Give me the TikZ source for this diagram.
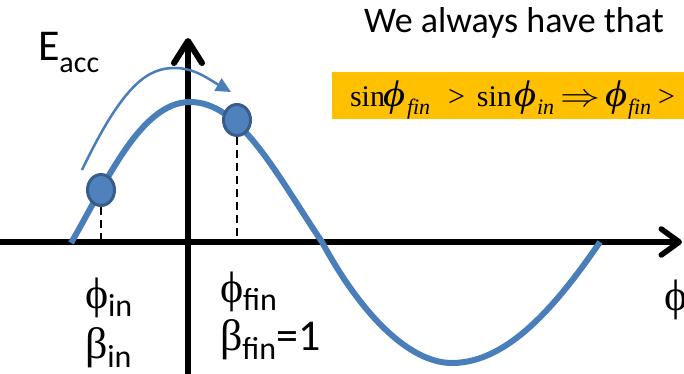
\documentclass[tikz,border=0pt]{standalone}
\usepackage{fontspec}
\usepackage{graphicx}
\setmainfont{Carlito}
\newfontfamily\grk{Liberation Serif}
\usetikzlibrary{arrows.meta,shapes.geometric}
\definecolor{curveblue}{RGB}{74,126,187}
\definecolor{dotfill}{RGB}{79,129,189}
\definecolor{dotline}{RGB}{56,93,138}
\definecolor{boxorange}{RGB}{255,192,0}
\newcommand{\fsz}[1]{\fontsize{#1}{#1}\selectfont}
\newcommand{\bigphi}{\scalebox{1.15}[1]{\fsz{37}\itshape ϕ}}
\newcommand{\subtxt}[1]{\raisebox{-8pt}{\fsz{22}\itshape #1}}
\tikzset{
  axisline/.style={line width=5.5pt,black},
  sinecurve/.style={line width=6pt,curveblue},
  dotnode/.style={ellipse,inner sep=0pt,minimum width=27pt,minimum height=31pt,fill=dotfill,draw=dotline,line width=3pt},
  dashln/.style={line width=2pt,dash pattern=on 8pt off 5pt},
  flowarrow/.style={line width=2.5pt,curveblue,-{Triangle[length=15pt,width=14pt]}},
  lbl/.style={anchor=base west,inner sep=0pt,outer sep=0pt},
}
\begin{document}
\begin{tikzpicture}[x=1pt,y=-1pt]
\clip (0,0) rectangle (684,374);
\fill[white] (0,0) rectangle (684,374);
% formula box
\fill[boxorange] (332,72) rectangle (690,119);
\node[lbl] (formula) at (350,107) {\grk\fsz{30}%
\makebox[33pt][l]{sin}%
\makebox[24pt][l]{\bigphi}%
\makebox[41pt][l]{\subtxt{fin}}%
\makebox[29pt][l]{>}%
\makebox[37pt][l]{sin}%
\makebox[23pt][l]{\bigphi}%
\makebox[23pt][l]{\subtxt{in}}%
\makebox[45pt][l]{\scalebox{1.6}[1.3]{$\Rightarrow$}}%
\makebox[23pt][l]{\bigphi}%
\makebox[30pt][l]{\subtxt{fin}}%
>};
\node[lbl] (always) at (364,33) {\fsz{36}We always have that};
% axes
\coordinate (hx0) at (0,242);
\coordinate (hx1) at (682,242);
\coordinate (vy0) at (188,380);
\coordinate (vy1) at (188,38);
\draw[axisline,-{Straight Barb[length=18pt,width=26pt,line cap=round,line join=round]}] (hx0) -- (hx1);
\draw[axisline,line width=6pt,-{Straight Barb[length=22pt,width=28pt,line cap=round,line join=round]}] (vy0) -- (vy1);
% curve
\coordinate (c0) at (71,243);
\coordinate (cpk) at (190,102);
\coordinate (cz) at (322,242);
\coordinate (ctr) at (452,363);
\coordinate (c1) at (600,242);
\draw[sinecurve] (c0) .. controls (105,185) and (140,102) .. (cpk)
  .. controls (240,102) and (275,172) .. (cz)
  .. controls (362,316) and (410,363) .. (ctr)
  .. controls (510,363) and (560,300) .. (c1);
% flow arrow
\coordinate (t0) at (82,170);
\coordinate (tm) at (175,68);
\coordinate (t1) at (231,92);
\draw[flowarrow] (t0) .. controls (125,80) and (150,68) .. (tm) .. controls (195,68) and (210,80) .. (t1);
% dashed drops
\coordinate (a1) at (101,242);
\coordinate (a2) at (237,242);
\node[dotnode] (d1) at (101,190) {};
\node[dotnode] (d2) at (237,120) {};
\draw[dashln] (d1.south) -- (a1);
\draw[dashln] (d2.south) -- (a2);
% labels
\node[lbl] (eacc) at (38,61) {\fsz{44}E\raisebox{-12pt}{\fsz{30}acc}};
\node[lbl] (phiin) at (85,308) {{\grk\fsz{44}ϕ}\raisebox{-8pt}{\fsz{32}in}};
\node[lbl] (betain) at (85,358) {{\grk\fsz{44}β}\raisebox{-9pt}{\fsz{32}in}};
\node[lbl] (phifin) at (220,302) {{\grk\fsz{44}ϕ}\raisebox{-8pt}{\fsz{32}fin}};
\node[lbl] (betafin) at (220,350) {{\grk\fsz{44}β}\raisebox{-9pt}{\fsz{32}fin}\fsz{44}=1};
\node[lbl] (phiax) at (664,310) {\grk\fsz{44}ϕ};
\end{tikzpicture}
\end{document}
